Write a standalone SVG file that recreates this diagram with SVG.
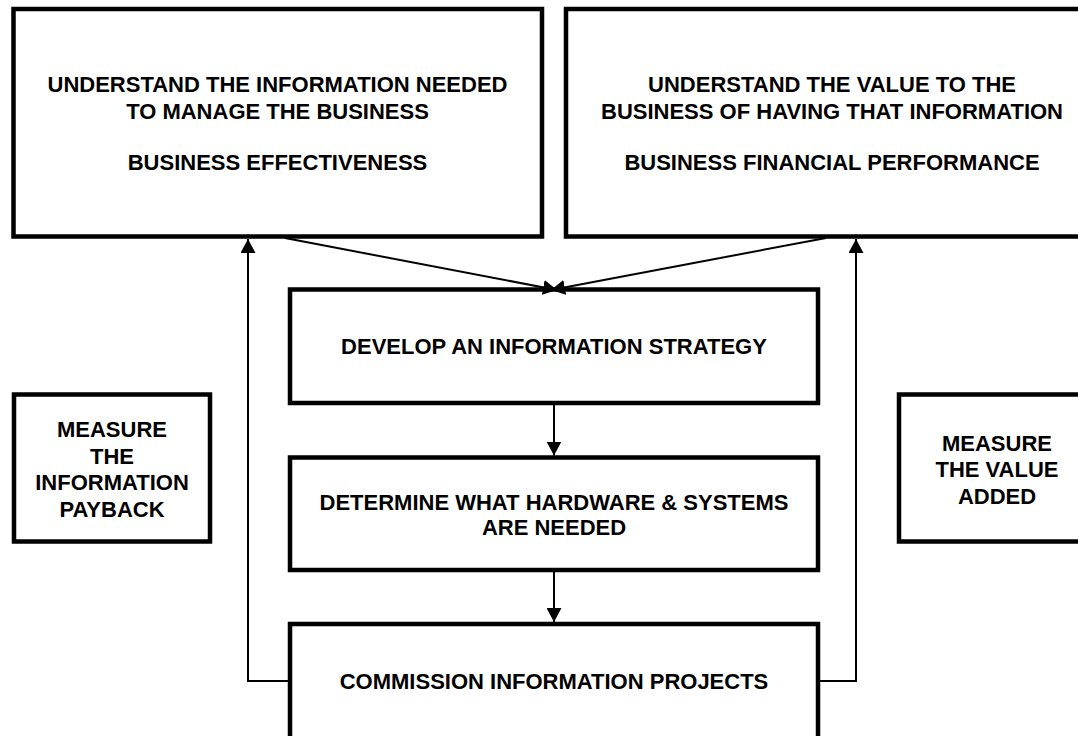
<svg xmlns="http://www.w3.org/2000/svg" width="1078" height="736" viewBox="0 0 1078 736">
<defs>
<style>
.box{fill:#fff;stroke:#000;stroke-width:4.5;}
.lbl{font-family:"Liberation Sans",Arial,sans-serif;font-weight:bold;font-size:22px;fill:#000;text-anchor:middle;}
.con{fill:none;stroke:#000;stroke-width:2;}
</style>
<marker id="ah" markerUnits="userSpaceOnUse" markerWidth="15" markerHeight="15" refX="14" refY="7.5" orient="auto" viewBox="0 0 15 15">
<path d="M0,0 L14,7.5 L0,15 z" fill="#000"/>
</marker>
</defs>
<rect width="1078" height="736" fill="#fff"/>
<g id="n-info-needed">
<rect class="box" x="13.5" y="9" width="528.5" height="227.5"/>
<text class="lbl" x="277.5" y="92">UNDERSTAND THE INFORMATION NEEDED</text>
<text class="lbl" x="277.5" y="118.5">TO MANAGE THE BUSINESS</text>
<text class="lbl" x="277.5" y="170">BUSINESS EFFECTIVENESS</text>
</g>
<g id="n-value">
<rect class="box" x="566" y="9" width="532" height="227.5"/>
<text class="lbl" x="832" y="92">UNDERSTAND THE VALUE TO THE</text>
<text class="lbl" x="832" y="118.5">BUSINESS OF HAVING THAT INFORMATION</text>
<text class="lbl" x="832" y="170">BUSINESS FINANCIAL PERFORMANCE</text>
</g>
<g id="n-strategy">
<rect class="box" x="290" y="289.5" width="528" height="113.5"/>
<text class="lbl" x="554" y="354">DEVELOP AN INFORMATION STRATEGY</text>
</g>
<g id="n-hardware">
<rect class="box" x="290" y="457.5" width="528" height="112.5"/>
<text class="lbl" x="554" y="509.5">DETERMINE WHAT HARDWARE &amp; SYSTEMS</text>
<text class="lbl" x="554" y="535">ARE NEEDED</text>
</g>
<g id="n-commission">
<rect class="box" x="290" y="624" width="528" height="140"/>
<text class="lbl" x="554" y="689">COMMISSION INFORMATION PROJECTS</text>
</g>
<g id="n-payback">
<rect class="box" x="14" y="394.5" width="196" height="147"/>
<text class="lbl" x="112" y="437">MEASURE</text>
<text class="lbl" x="112" y="463.5">THE</text>
<text class="lbl" x="112" y="490">INFORMATION</text>
<text class="lbl" x="112" y="516.5">PAYBACK</text>
</g>
<g id="n-value-added">
<rect class="box" x="899" y="394.5" width="196" height="147"/>
<text class="lbl" x="997" y="450.5">MEASURE</text>
<text class="lbl" x="997" y="477">THE VALUE</text>
<text class="lbl" x="997" y="503.5">ADDED</text>
</g>
<g id="connectors">
<line class="con" x1="285" y1="238" x2="557" y2="290" marker-end="url(#ah)"/>
<line class="con" x1="826" y1="238" x2="551" y2="290" marker-end="url(#ah)"/>
<line class="con" x1="554" y1="405" x2="554" y2="455.5" marker-end="url(#ah)"/>
<line class="con" x1="554" y1="572" x2="554" y2="622" marker-end="url(#ah)"/>
<polyline class="con" points="290,681 248,681 248,239" marker-end="url(#ah)"/>
<polyline class="con" points="818,681 856,681 856,239" marker-end="url(#ah)"/>
</g>
</svg>
